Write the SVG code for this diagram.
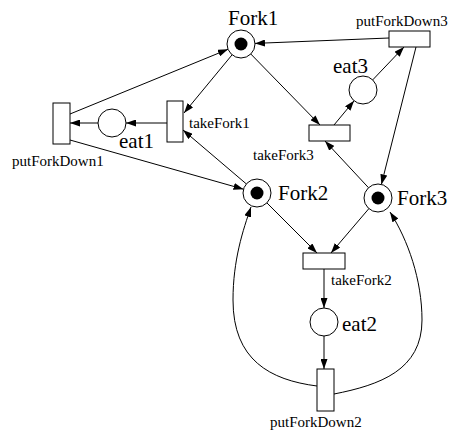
<svg xmlns="http://www.w3.org/2000/svg" width="449" height="432" viewBox="0 0 449 432">
<style>
.pl{fill:#fff;stroke:#000;stroke-width:1}
.tk{fill:#000}
.tr{fill:#fff;stroke:#000;stroke-width:1}
.c{fill:none;stroke:#000;stroke-width:1;marker-end:url(#ah)}
.big{font-family:"Liberation Serif","Times New Roman",serif;font-size:21px;fill:#000}
.sm{font-family:"Liberation Serif","Times New Roman",serif;font-size:15px;fill:#000}
</style>
<defs>
<marker id="ah" markerUnits="userSpaceOnUse" markerWidth="10" markerHeight="7" refX="10" refY="3.5" orient="auto">
<path d="M0,0 L10,3.5 L0,7 z" fill="#000"/>
</marker>
</defs>
<rect width="449" height="432" fill="#fff"/>
<g id="connectors">
<line class="c" x1="389" y1="38" x2="255" y2="43.4"/>
<line class="c" x1="232.1" y1="54.8" x2="184" y2="113"/>
<line class="c" x1="250.8" y1="54" x2="320" y2="125"/>
<line class="c" x1="334" y1="125" x2="354.1" y2="100.8"/>
<line class="c" x1="372.7" y1="79.9" x2="404" y2="47"/>
<line class="c" x1="416" y1="47" x2="381.4" y2="184.4"/>
<line class="c" x1="70" y1="114" x2="228" y2="49.3"/>
<line class="c" x1="98" y1="123" x2="70" y2="123"/>
<line class="c" x1="167" y1="123" x2="126" y2="123"/>
<line class="c" x1="246.3" y1="183.9" x2="183" y2="130"/>
<line class="c" x1="70" y1="140" x2="243.5" y2="189.2"/>
<line class="c" x1="266.9" y1="202.9" x2="317" y2="253"/>
<line class="c" x1="368.9" y1="208.6" x2="331" y2="253"/>
<line class="c" x1="368.5" y1="187.7" x2="325" y2="141"/>
<line class="c" x1="324" y1="269" x2="324" y2="308"/>
<line class="c" x1="324" y1="336" x2="324" y2="369"/>
<path class="c" d="M317,386 C270,380 233,360 233,300 C233,260 243,230 251,207"/>
<path class="c" d="M334,394 C380,385 422,370 422,320 C422,280 408,240 390,212"/>
</g>
<g id="Fork1"><circle class="pl" cx="241" cy="44" r="14"/><circle class="tk" cx="241" cy="44" r="6.5"/><text class="big" x="228" y="25">Fork1</text></g>
<g id="Fork2"><circle class="pl" cx="257" cy="193" r="14"/><circle class="tk" cx="257" cy="193" r="6.5"/><text class="big" x="278" y="200">Fork2</text></g>
<g id="Fork3"><circle class="pl" cx="378" cy="198" r="14"/><circle class="tk" cx="378" cy="198" r="6.5"/><text class="big" x="397" y="205">Fork3</text></g>
<g id="eat1"><circle class="pl" cx="112" cy="123" r="14"/><text class="big" x="119" y="148">eat1</text></g>
<g id="eat2"><circle class="pl" cx="324" cy="322" r="14"/><text class="big" x="342" y="331">eat2</text></g>
<g id="eat3"><circle class="pl" cx="363" cy="90" r="14"/><text class="big" x="333" y="73">eat3</text></g>
<g id="putForkDown3"><rect class="tr" x="389" y="31" width="41" height="16"/><text class="sm" x="356" y="26">putForkDown3</text></g>
<g id="takeFork3"><rect class="tr" x="309" y="125" width="41" height="16"/><text class="sm" x="253" y="160">takeFork3</text></g>
<g id="takeFork1"><rect class="tr" x="167" y="101" width="16" height="41"/><text class="sm" x="189" y="128">takeFork1</text></g>
<g id="putForkDown1"><rect class="tr" x="53" y="103" width="17" height="41"/><text class="sm" x="12" y="166">putForkDown1</text></g>
<g id="takeFork2"><rect class="tr" x="303" y="253" width="42" height="16"/><text class="sm" x="331" y="285">takeFork2</text></g>
<g id="putForkDown2"><rect class="tr" x="317" y="369" width="17" height="42"/><text class="sm" x="270" y="427">putForkDown2</text></g>
</svg>
